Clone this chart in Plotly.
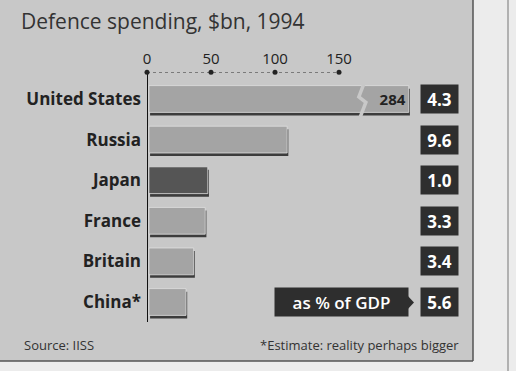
import plotly.graph_objects as go

# ---- data ----
countries = ["United States", "Russia", "Japan", "France", "Britain", "China*"]
spending_bn = [284, 108, 46, 44, 35, 29]
gdp_share = ["4.3", "9.6", "1.0", "3.3", "3.4", "5.6"]
tick_vals = [0, 50, 100, 150]
axis_break = 168      # where the US bar is cut
display_cap = 203     # drawn length of the broken US bar

W, H = 516, 371
FONT = "Open Sans"
PANEL = "#c8c8c8"
BAR = "#a4a4a4"
DARK_BAR = "#555555"
SHADOW = "#3c3c3c"
BOX = "#2e2e2e"

def px_x(p):
    return p / W

def px_y(p):
    return 1 - p / H

ypos = list(range(len(countries)))
shown = [min(v, display_cap) for v in spending_bn]
colors = [DARK_BAR if c == "Japan" else BAR for c in countries]
bar_text = [str(v) if v > display_cap else "" for v in spending_bn]

y_top = -0.66
bw = 0.66
shadow_dy = 0.075
shadow_dx = 2.4

fig = go.Figure()

# shadows
fig.add_trace(go.Bar(
    orientation="h", y=ypos, x=shown, base=shadow_dx,
    width=bw, offset=-bw / 2 + shadow_dy,
    marker=dict(color=SHADOW, line=dict(width=0)),
    hoverinfo="skip", showlegend=False,
))
# bars
fig.add_trace(go.Bar(
    orientation="h", y=ypos, x=shown, base=1.5,
    width=bw, offset=-bw / 2,
    marker=dict(color=colors, line=dict(width=0.8, color="#e0e0e0")),
    text=bar_text, textposition="inside", insidetextanchor="end",
    textfont=dict(family=FONT, size=15, color="#222222", weight="bold"),
    hoverinfo="skip", showlegend=False,
))
# break zigzag on the US bar
zx = [axis_break + 2, axis_break - 2.5, axis_break + 3, axis_break - 1.5]
zy = [-0.42, -0.05, 0.08, 0.45]
fig.add_trace(go.Scatter(
    x=zx, y=zy, mode="lines",
    line=dict(color=PANEL, width=3.5),
    hoverinfo="skip", showlegend=False, cliponaxis=False,
))
# dotted scale line with tick dots
fig.add_trace(go.Scatter(
    x=[tick_vals[0], tick_vals[-1]], y=[y_top, y_top], mode="lines",
    line=dict(color="#333333", width=1, dash="dot"),
    hoverinfo="skip", showlegend=False, cliponaxis=False,
))
fig.add_trace(go.Scatter(
    x=tick_vals, y=[y_top] * len(tick_vals), mode="markers",
    marker=dict(color="#222222", size=5),
    hoverinfo="skip", showlegend=False, cliponaxis=False,
))

annotations = []
# title
annotations.append(dict(
    text="Defence spending, $bn, 1994", xref="paper", yref="paper",
    x=px_x(19), y=px_y(21), xanchor="left", yanchor="middle", showarrow=False,
    font=dict(family=FONT, size=21, color="#333333"),
))
# GDP boxes
for yy, g in zip(ypos, gdp_share):
    annotations.append(dict(
        text="<b>%s</b>" % g, xref="paper", yref="y", x=px_x(439), y=yy,
        xanchor="center", yanchor="middle", showarrow=False,
        bgcolor=BOX, width=34, height=25, borderpad=1.5,
        font=dict(family=FONT, size=17, color="white"),
    ))
# "as % of GDP" label
annotations.append(dict(
    text="as % of GDP", xref="paper", yref="y", x=px_x(341), y=ypos[-1],
    xanchor="center", yanchor="middle", showarrow=False,
    bgcolor=BOX, width=130, height=25, borderpad=1.5,
    font=dict(family=FONT, size=17, color="white", weight=600),
))
# footer
annotations.append(dict(
    text="Source: IISS", xref="paper", yref="paper", x=px_x(22), y=px_y(345),
    xanchor="left", yanchor="middle", showarrow=False,
    font=dict(family=FONT, size=13, color="#333333"),
))
annotations.append(dict(
    text="*Estimate: reality perhaps bigger", xref="paper", yref="paper",
    x=px_x(461), y=px_y(345), xanchor="right", yanchor="middle", showarrow=False,
    font=dict(family=FONT, size=13, color="#333333"),
))

shapes = [
    # panel
    dict(type="rect", xref="paper", yref="paper", x0=0, x1=px_x(473), y0=px_y(361), y1=1,
         fillcolor=PANEL, line=dict(width=0), layer="below"),
    dict(type="line", xref="paper", yref="paper", x0=px_x(473), x1=px_x(473), y0=px_y(361), y1=1,
         line=dict(color="#555555", width=1.5)),
    dict(type="line", xref="paper", yref="paper", x0=0, x1=px_x(473), y0=px_y(361), y1=px_y(361),
         line=dict(color="#555555", width=1.5)),
    dict(type="line", xref="paper", yref="paper", x0=px_x(508), x1=px_x(508), y0=0, y1=1,
         line=dict(color="#8a8a8a", width=1.2)),
    # arrow on the GDP label
    dict(type="path", xref="paper", yref="paper",
         path="M %f,%f L %f,%f L %f,%f Z" % (px_x(406), px_y(294), px_x(414), px_y(302.5),
                                               px_x(406), px_y(311)),
         fillcolor=BOX, line=dict(width=0)),
]

x0_px = 145
fig.update_layout(
    width=W, height=H, margin=dict(l=0, r=0, t=0, b=0),
    paper_bgcolor="#ececec", plot_bgcolor="rgba(0,0,0,0)",
    barmode="overlay", showlegend=False,
    annotations=annotations, shapes=shapes,
    xaxis=dict(
        domain=[x0_px / W, 1], automargin=False,
        range=[(x0_px - 147) / 1.28, (W - 147) / 1.28],
        side="top", tickvals=tick_vals, ticks="", showgrid=False, showline=False,
        zeroline=True, zerolinecolor="#111111", zerolinewidth=1.2,
        tickfont=dict(family=FONT, size=15, color="#222222"),
        ticklabelstandoff=4, fixedrange=True,
    ),
    yaxis=dict(
        domain=[px_y(322.3), px_y(72.2)], automargin=False,
        range=[5.5, y_top],
        tickvals=ypos, ticktext=countries, ticks="", showgrid=False,
        showline=False, zeroline=False,
        tickfont=dict(family=FONT, size=17, color="#222222", weight="bold"),
        ticklabelstandoff=3, fixedrange=True,
    ),
)

fig.write_html("out.html", config={"displayModeBar": False},
               post_script="document.body.style.margin='0';")
